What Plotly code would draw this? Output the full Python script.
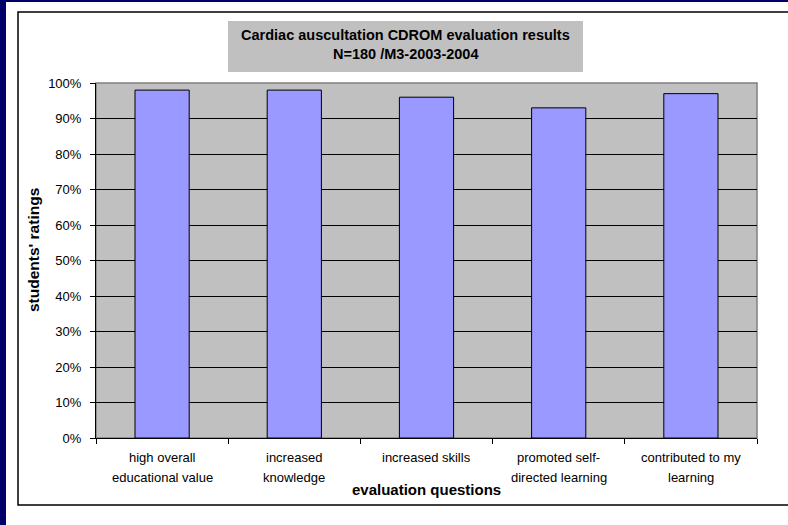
import plotly.graph_objects as go

# ---- data ----
categories = ["high overall educational value", "increased knowledge", "increased skills",
              "promoted self-directed learning", "contributed to my learning"]
label_lines = [["high overall", "educational value"],
               ["increased", "knowledge"],
               ["increased skills"],
               ["promoted self-", "directed learning"],
               ["contributed to my", "learning"]]
ratings = [0.98, 0.98, 0.96, 0.93, 0.97]
title_lines = ["Cardiac auscultation CDROM evaluation results", "N=180 /M3-2003-2004"]
y_title = "students' ratings"
x_title = "evaluation questions"

W, H = 788, 525
L, R, T, B = 96, 757, 83, 438
FONT = "Arial, Liberation Sans, sans-serif"

def px(x):
    return (x - L) / (R - L)

def py(y):
    return (B - y) / (B - T)

fig = go.Figure(go.Bar(
    x=categories, y=ratings, width=0.41,
    marker=dict(color="#9999FF", line=dict(color="black", width=1)),
))

shapes = [
    # navy slide edges
    dict(type="rect", xref="paper", yref="paper", x0=px(0), x1=px(6), y0=py(0), y1=py(H),
         fillcolor="#000066", line=dict(width=0), layer="below"),
    dict(type="rect", xref="paper", yref="paper", x0=px(0), x1=px(W), y0=py(0), y1=py(2),
         fillcolor="#000066", line=dict(width=0), layer="below"),
    # chart frame
    dict(type="rect", xref="paper", yref="paper", x0=px(18), x1=px(800), y0=py(12), y1=py(505),
         fillcolor="rgba(0,0,0,0)", line=dict(color="black", width=1.5), layer="below"),
    # title box
    dict(type="rect", xref="paper", yref="paper", x0=px(228), x1=px(583), y0=py(21), y1=py(72),
         fillcolor="#C0C0C0", line=dict(width=0), layer="below"),
    # plot-area border
    dict(type="rect", xref="paper", yref="paper", x0=0, x1=1, y0=0, y1=1,
         fillcolor="rgba(0,0,0,0)", line=dict(color="#808080", width=1.5), layer="below"),
]

annotations = [
    dict(text="<b>%s</b>" % title_lines[0], xref="paper", yref="paper", x=px(405.5), y=py(35),
         showarrow=False, font=dict(size=14.5, color="black", family=FONT), xanchor="center", yanchor="middle"),
    dict(text="<b>%s</b>" % title_lines[1], xref="paper", yref="paper", x=px(405.5), y=py(54),
         showarrow=False, font=dict(size=14.5, color="black", family=FONT), xanchor="center", yanchor="middle"),
    dict(text="<b>%s</b>" % y_title, xref="paper", yref="paper", x=px(33), y=py(250), textangle=-90,
         showarrow=False, font=dict(size=15.5, color="black", family=FONT), xanchor="center", yanchor="middle"),
    dict(text="<b>%s</b>" % x_title, xref="paper", yref="paper", x=px(426), y=py(489),
         showarrow=False, font=dict(size=15, color="black", family=FONT), xanchor="center", yanchor="middle"),
]
for cat, lines in zip(categories, label_lines):
    for i, line in enumerate(lines):
        annotations.append(dict(text=line, xref="x", yref="paper", x=cat, y=py(457 + 20 * i),
                                showarrow=False, font=dict(size=13, color="black", family=FONT),
                                xanchor="center", yanchor="middle"))

fig.update_layout(
    width=W, height=H,
    margin=dict(l=L, r=W - R, t=T, b=H - B, pad=0),
    paper_bgcolor="white", plot_bgcolor="#C0C0C0",
    showlegend=False,
    font=dict(family=FONT, color="black"),
    shapes=shapes, annotations=annotations,
    xaxis=dict(showticklabels=False, ticks="outside", tickson="boundaries", ticklen=5,
               tickcolor="black", showline=True, linecolor="black", linewidth=1,
               showgrid=False, zeroline=False),
    yaxis=dict(range=[0, 1], dtick=0.1, tickformat=".0%", ticks="outside", ticklen=5,
               tickcolor="black", showline=True, linecolor="black", linewidth=1,
               showgrid=True, gridcolor="black", gridwidth=1, zeroline=False,
               tickfont=dict(size=13, family=FONT, color="black"), ticklabelstandoff=6),
)

fig.write_html("out.html", config={"displayModeBar": False},
               post_script="document.body.style.margin='0';document.body.style.overflow='hidden';")
